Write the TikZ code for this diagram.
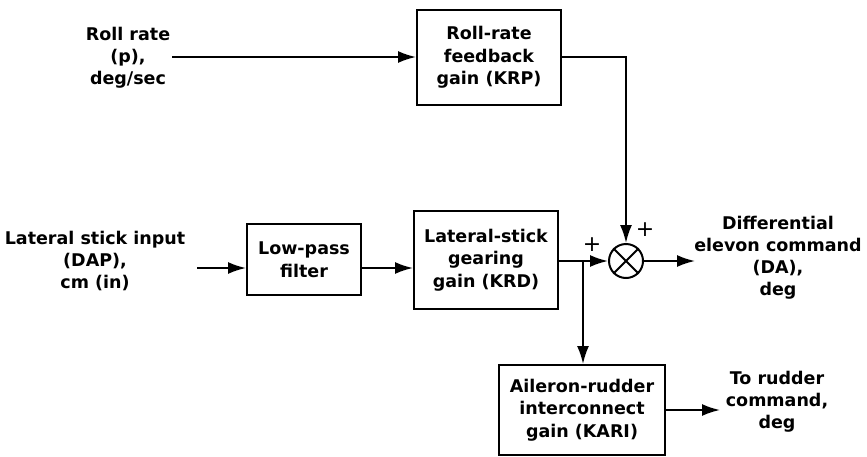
\documentclass[tikz,border=0pt]{standalone}
\usepackage{fontspec}
\setmainfont{DejaVu Sans}
\usetikzlibrary{arrows.meta}
\begin{document}
\begin{tikzpicture}[x=1pt,y=-1pt,
  txt/.style={font=\bfseries\fontsize{17.5}{22}\selectfont, align=center, inner sep=0pt},
  blk/.style={draw, line width=2pt, minimum width=#1, inner sep=0pt, align=center, font=\bfseries\fontsize{17.5}{22.5}\selectfont},
  con/.style={line width=1.9pt},
  arr/.style={con, -{Latex[length=18pt,width=12pt]}},
  pls/.style={font=\fontsize{22}{22}\selectfont, inner sep=0pt}]
\useasboundingbox (0,0) rectangle (867,456);
% boxes
\node[blk=144pt, minimum height=95pt] (krp) at (489,57.5) {Roll-rate\\feedback\\gain (KRP)};
\node[blk=114pt, minimum height=71pt] (lpf) at (304,259.5) {Low-pass\\filter};
\node[blk=144pt, minimum height=98pt] (krd) at (486,260) {Lateral-stick\\gearing\\gain (KRD)};
\node[blk=166pt, minimum height=90pt] (kari) at (582,410) {Aileron-rudder\\interconnect\\gain (KARI)};
\node[draw, circle, line width=2pt, minimum size=34pt, inner sep=0pt] (sum) at (626,261) {};
\draw[line width=1.9pt] (sum.north west) -- (sum.south east) (sum.north east) -- (sum.south west);
% texts
\node[txt] (rr) at (128,58) {Roll rate\\(p),\\deg/sec};
\node[txt] (lsi) at (95,261) {Lateral stick input\\(DAP),\\cm (in)};
\node[txt] (da) at (778,258) {Differential\\elevon command\\(DA),\\deg};
\node[txt] (rud) at (777,402) {To rudder\\command,\\deg};
\node[pls] (p1) at (592,245) {+};
\node[pls] (p2) at (645,230) {+};
% connectors
\coordinate (rrE) at (172,57);
\coordinate (lsiE) at (197,268);
\coordinate (daW) at (695,261);
\coordinate (rudW) at (720,410);
\coordinate (br) at (583,261);
\draw[arr] (rrE) -- (krp.west |- rrE);
\draw[arr] (lsiE) -- (lpf.west |- lsiE);
\draw[arr] (lpf.east |- lsiE) -- (krd.west |- lsiE);
\draw[arr] (krd.east |- sum) -- (sum.west);
\draw[arr] (krp.east |- rrE) -| (sum.north);
\draw[arr] (sum.east) -- (daW);
\draw[arr] (br) -- (br |- kari.north);
\draw[arr] (kari.east |- rudW) -- (rudW);
\end{tikzpicture}
\end{document}
